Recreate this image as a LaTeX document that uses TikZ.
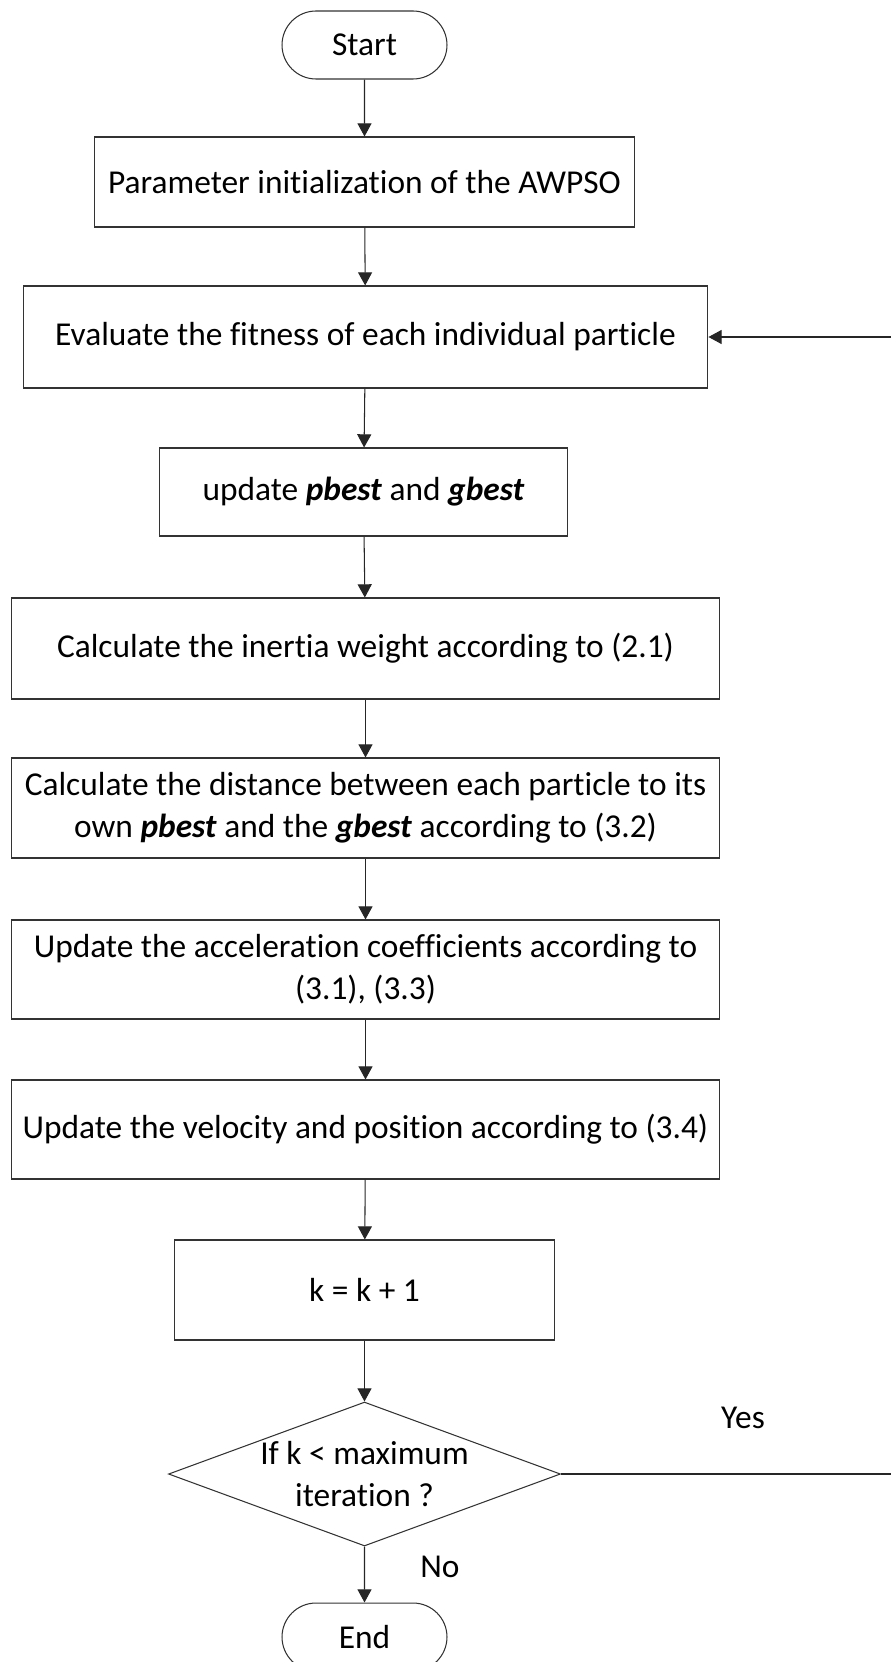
\documentclass[tikz,border=0pt]{standalone}
\usepackage{fontspec}
\setmainfont{Carlito}[Ligatures=NoCommon]
\usetikzlibrary{shapes.geometric,shapes.misc,arrows.meta}

\begin{document}
\begin{tikzpicture}[
    x=0.02cm, y=-0.02cm,
    box/.style={rectangle, draw=black!80, line width=0.6pt, inner sep=0pt, align=center, font=\fontsize{19}{24}\selectfont},
    term/.style={rounded rectangle, draw=black!80, line width=0.6pt, minimum width=3.3cm, minimum height=1.36cm, inner sep=0pt, font=\fontsize{19}{24}\selectfont},
    decision/.style={diamond, draw=black!80, line width=0.6pt, aspect=2.72, minimum width=7.84cm, minimum height=2.88cm, inner sep=0pt, align=center, font=\fontsize{19}{24}\selectfont},
    arrow/.style={->, >={Triangle[length=7.5pt,width=8pt]}, line width=0.6pt, black!85},
    label/.style={font=\fontsize{19}{24}\selectfont}
]
\useasboundingbox (0,0) rectangle (890,1662);

% Start and initialization
\node[term] (start) at (364.5,45) {Start};
\node[box, minimum width=10.82cm, minimum height=1.8cm] (init) at (364.5,182) {Parameter initialization of the AWPSO};

% Main loop
\node[box, minimum width=13.7cm, minimum height=2.04cm] (fitness) at (365.5,337) {Evaluate the fitness of each individual particle};
\node[box, minimum width=8.18cm, minimum height=1.76cm] (best) at (363.5,492) {update \textbf{\textit{pbest}} and \textbf{\textit{gbest}}};
\node[box, minimum width=14.18cm, minimum height=2.02cm] (inertia) at (365.5,648.5) {Calculate the inertia weight according to (2.1)};
\node[box, minimum width=14.18cm, minimum height=2cm] (distance) at (365.5,808) {Calculate the distance between each particle to its\\own \textbf{\textit{pbest}} and the \textbf{\textit{gbest}} according to (3.2)};
\node[box, minimum width=14.18cm, minimum height=1.98cm] (accel) at (365.5,969.5) {Update the acceleration coefficients according to\\(3.1), (3.3)};
\node[box, minimum width=14.18cm, minimum height=1.98cm] (velocity) at (365.5,1129.5) {Update the velocity and position according to (3.4)};
\node[box, minimum width=7.62cm, minimum height=2cm] (counter) at (364.5,1290) {k = k + 1};

% Check and end
\node[decision] (check) at (364.5,1474) {If k < maximum\\iteration ?};
\node[term] (finish) at (364.5,1637) {End};
\coordinate (corner1) at (905,1474);
\coordinate (corner2) at (905,337);

% Labels
\node[label] at (743,1418) {Yes};
\node[label] at (440,1567) {No};

% Arrows
\draw[arrow] (start) -- (init);
\draw[arrow] (init) -- (fitness);
\draw[arrow] (fitness) -- (best);
\draw[arrow] (best) -- (inertia);
\draw[arrow] (inertia) -- (distance);
\draw[arrow] (distance) -- (accel);
\draw[arrow] (accel) -- (velocity);
\draw[arrow] (velocity) -- (counter);
\draw[arrow] (counter) -- (check);
\draw[arrow] (check) -- (finish);
\draw[arrow] (check.east) -- (corner1) -- (corner2) -- (fitness.east);

\end{tikzpicture}
\end{document}
